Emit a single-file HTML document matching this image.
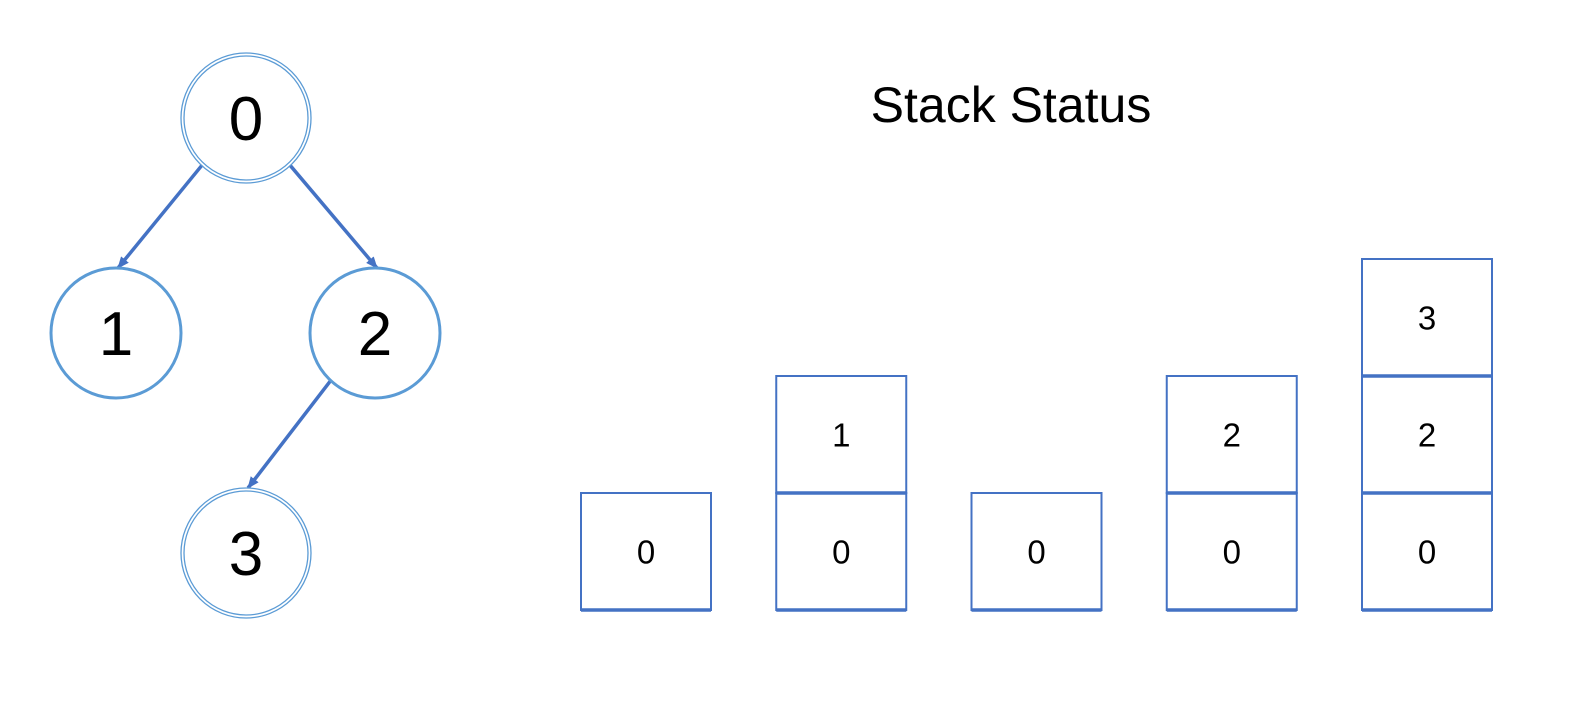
<!DOCTYPE html>
<html><head><meta charset="utf-8"><style>
body{margin:0;background:#fff;}
svg{display:block;font-family:"Liberation Sans",sans-serif;}
</style></head><body>
<svg id="c" width="1570" height="704" viewBox="0 0 1570 704">
<defs><marker id="ah" markerWidth="12" markerHeight="10" refX="11" refY="5" orient="auto" markerUnits="userSpaceOnUse"><path d="M0,0 L12,5 L0,10 z" fill="#4472C4"/></marker></defs>
<text x="1011" y="122" font-size="50" text-anchor="middle" fill="#000">Stack Status</text>
</svg>
<script>
const nodeLabels=["0","1","2","3"];
const nodeX=[246,116,375,246];
const nodeY=[118,333,333,553];
const nodeDouble=[true,false,false,true];
const edgesFrom=[0,0,2];
const edgesTo=[1,2,3];
const stacks=[["0"],["0","1"],["0"],["0","2"],["0","2","3"]];
const svg=document.getElementById('c');
const NS='http://www.w3.org/2000/svg';
function mk(t,a){const e=document.createElementNS(NS,t);for(const k in a)e.setAttribute(k,a[k]);svg.appendChild(e);return e;}
const R=65;
edgesFrom.forEach((f,i)=>{const t=edgesTo[i];const sgn=Math.sign(nodeX[t]-nodeX[f]);
const ang=Math.PI/2+sgn*(-0.75);
const x1=nodeX[f]+Math.cos(ang)*R, y1=nodeY[f]+Math.sin(ang)*R;
const x2=nodeX[t]+2, y2=nodeY[t]-R;
const e=mk('line',{x1:x1,y1:y1,x2:x2,y2:y2,stroke:'#4472C4','stroke-width':3.5,'marker-end':'url(#ah)'});

});
nodeLabels.forEach((l,i)=>{
if(nodeDouble[i]){const a=mk('circle',{cx:nodeX[i],cy:nodeY[i],r:R,fill:'#fff',stroke:'#5B9BD5','stroke-width':1.3});


mk('circle',{cx:nodeX[i],cy:nodeY[i],r:R-3,fill:'none',stroke:'#5B9BD5','stroke-width':1.3});}
else{const a=mk('circle',{cx:nodeX[i],cy:nodeY[i],r:R,fill:'#fff',stroke:'#5B9BD5','stroke-width':3});

}
const t=mk('text',{x:nodeX[i],y:nodeY[i]+22,'font-size':62,'text-anchor':'middle',fill:'#000'});t.textContent=l;

});
const colX0=581,colStep=195.25,boxW=130,boxH=117,baseY=610;
stacks.forEach((s,c)=>{const x=colX0+c*colStep;
s.forEach((v,j)=>{const y=baseY-(j+1)*boxH;
const r=mk('rect',{x:x,y:y,width:boxW,height:boxH,fill:'none',stroke:'#4472C4','stroke-width':2});


if(j>0){mk('line',{x1:x,y1:y+boxH,x2:x+boxW,y2:y+boxH,stroke:'#4472C4','stroke-width':3.5});}
const t=mk('text',{x:x+boxW/2,y:y+boxH/2+12,'font-size':33,'text-anchor':'middle',fill:'#000'});t.textContent=v;

});
const b=mk('line',{x1:x,y1:baseY,x2:x+boxW,y2:baseY,stroke:'#4472C4','stroke-width':3.5});

});
</script>
</body></html>
